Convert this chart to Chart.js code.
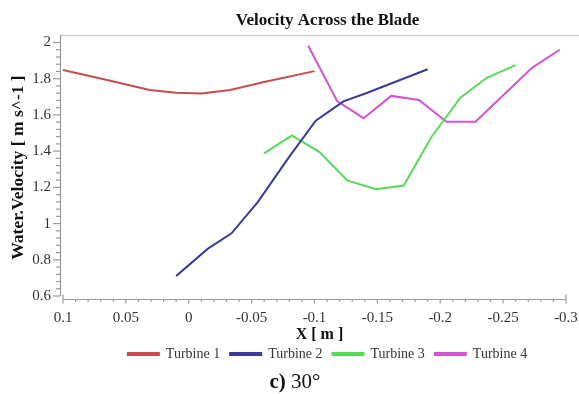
<!DOCTYPE html>
<html>
<head>
<meta charset="utf-8">
<script src="https://cdn.jsdelivr.net/npm/chart.js@4/dist/chart.umd.min.js"></script>
<style>
  html, body { margin: 0; padding: 0; background: #ffffff; overflow: hidden; }
  #wrap { position: relative; width: 579px; height: 394px; overflow: hidden; }
  #c { display: block; }
  #caption { position: absolute; top: 370px; left: 295px; transform: translateX(-50%);
    font-family: "Liberation Serif", "Times New Roman", serif; font-size: 21px; line-height: 23px;
    color: #111; white-space: nowrap; }
</style>
</head>
<body>
<div id="wrap">
  <canvas id="c" width="579" height="394"></canvas>
  <div id="caption"><b>c)</b> 30°</div>
</div>
<script>
// ---- data ----
const seriesNames = ['Turbine 1', 'Turbine 2', 'Turbine 3', 'Turbine 4'];

const t1X = [0.1, 0.065, 0.031, 0.01, -0.01, -0.033, -0.059, -0.1];
const t1Y = [1.848, 1.793, 1.738, 1.722, 1.718, 1.738, 1.78, 1.842];

const t2X = [0.01, -0.015, -0.034, -0.055, -0.08, -0.101, -0.123, -0.141, -0.19];
const t2Y = [0.71, 0.86, 0.946, 1.12, 1.37, 1.568, 1.675, 1.72, 1.852];

const t3X = [-0.06, -0.082, -0.104, -0.126, -0.149, -0.171, -0.193, -0.216, -0.237, -0.26];
const t3Y = [1.388, 1.487, 1.395, 1.238, 1.19, 1.21, 1.478, 1.695, 1.805, 1.875];

const t4X = [-0.095, -0.118, -0.139, -0.161, -0.183, -0.205, -0.228, -0.273, -0.295];
const t4Y = [1.982, 1.677, 1.582, 1.705, 1.683, 1.562, 1.562, 1.86, 1.96];

const xTicks = [0.1, 0.05, 0, -0.05, -0.1, -0.15, -0.2, -0.25, -0.3];
const xTickLabels = ['0.1', '0.05', '0', '-0.05', '-0.1', '-0.15', '-0.2', '-0.25', '-0.3'];
const yTicks = [0.6, 0.8, 1, 1.2, 1.4, 1.6, 1.8, 2];
const yTickLabels = ['0.6', '0.8', '1', '1.2', '1.4', '1.6', '1.8', '2'];

const colors = ['#c24e4e', '#3a3a9c', '#58d858', '#d055d0'];

function pts(xs, ys) { return xs.map((x, i) => ({ x: x, y: ys[i] })); }

const SERIF = '"Liberation Serif", "Times New Roman", serif';

// axis lines, frame and minor ticks drawn from the scales
const axesPlugin = {
  id: 'axesPlugin',
  afterLayout(chart) {
    if (chart.titleBlock) { chart.titleBlock.left += 16; }
    if (chart.legend) { chart.legend.left += 8; chart.legend.right += 8; }
  },
  beforeDatasetsDraw(chart) {
    const ctx = chart.ctx;
    const a = chart.chartArea;
    const xs = chart.scales.x, ys = chart.scales.y;
    ctx.save();
    // light frame on top
    ctx.strokeStyle = '#cfcfcf';
    ctx.lineWidth = 1.5;
    ctx.beginPath();
    ctx.moveTo(a.left, a.top + 0.5);
    ctx.lineTo(a.right, a.top + 0.5);
    ctx.stroke();
    // y axis line
    ctx.strokeStyle = '#9a9a9a';
    ctx.lineWidth = 1.2;
    const yb = ys.getPixelForValue(yTicks[0]);
    ctx.beginPath();
    ctx.moveTo(a.left + 0.5, a.top);
    ctx.lineTo(a.left + 0.5, yb);
    ctx.stroke();
    // y ticks
    for (let i = 60; i <= 200; i += 4) {
      const py = ys.getPixelForValue(i / 100);
      const len = (i % 20 === 0) ? 7 : 4;
      ctx.beginPath();
      ctx.moveTo(a.left, py);
      ctx.lineTo(a.left - len, py);
      ctx.stroke();
    }
    // x axis line
    const x0 = xs.getPixelForValue(xTicks[0]);
    const x1 = xs.getPixelForValue(xTicks[xTicks.length - 1]);
    const by = a.bottom - 0.5;
    ctx.beginPath();
    ctx.moveTo(x0, by);
    ctx.lineTo(x1, by);
    ctx.stroke();
    ctx.beginPath();
    ctx.moveTo(x0, by); ctx.lineTo(x0, by - 5);
    ctx.moveTo(x1, by); ctx.lineTo(x1, by - 5);
    ctx.stroke();
    for (let i = 10; i >= -30; i--) {
      const px = xs.getPixelForValue(i / 100);
      const len = (i % 5 === 0) ? 4 : 2.5;
      ctx.beginPath();
      ctx.moveTo(px, by);
      ctx.lineTo(px, by + len);
      ctx.stroke();
    }
    ctx.restore();
  }
};

const datasets = [[t1X, t1Y], [t2X, t2Y], [t3X, t3Y], [t4X, t4Y]].map((s, i) => ({
  label: seriesNames[i],
  data: pts(s[0], s[1]),
  borderColor: colors[i],
  backgroundColor: colors[i],
  borderWidth: 2,
  pointRadius: 0,
  tension: 0,
  fill: false
}));

new Chart(document.getElementById('c'), {
  type: 'line',
  data: { datasets: datasets },
  plugins: [axesPlugin],
  options: {
    responsive: false,
    animation: false,
    devicePixelRatio: 1,
    layout: { autoPadding: false, padding: { left: 0, right: 0, top: 0, bottom: 23 } },
    plugins: {
      title: {
        display: true,
        text: 'Velocity Across the Blade',
        color: '#111',
        font: { family: SERIF, size: 17, weight: 'bold' },
        padding: { top: 10.5, bottom: 4.1 },
        fullSize: false
      },
      legend: {
        display: true,
        position: 'bottom',
        fullSize: false,
        labels: {
          boxWidth: 31,
          boxHeight: 2,
          padding: 10,
          color: '#333',
          font: { family: SERIF, size: 14 }
        }
      },
      tooltip: { enabled: false }
    },
    scales: {
      x: {
        type: 'linear',
        reverse: true,
        min: -0.31034,
        max: 0.10239,
        afterBuildTicks: (s) => { s.ticks = xTicks.map(v => ({ value: v })); },
        afterFit: (s) => { s.height = 37; s.paddingLeft = 0; s.paddingRight = 0; },
        grid: { display: false, drawTicks: false },
        border: { display: false },
        ticks: {
          autoSkip: false,
          maxRotation: 0,
          padding: 9,
          color: '#333',
          font: { family: SERIF, size: 15 },
          callback: (v, i) => xTickLabels[i]
        },
        title: {
          display: true,
          text: 'X [ m ]',
          color: '#111',
          font: { family: SERIF, size: 16, weight: 'bold' },
          padding: { top: 0, bottom: -7.6 }
        }
      },
      y: {
        type: 'linear',
        min: 0.5779,
        max: 2.0414,
        afterBuildTicks: (s) => { s.ticks = yTicks.map(v => ({ value: v })); },
        afterFit: (s) => { s.width = 60; s.paddingTop = 0; s.paddingBottom = 0; },
        grid: { display: false, drawTicks: false },
        border: { display: false },
        ticks: {
          padding: 9,
          color: '#333',
          font: { family: SERIF, size: 15 },
          callback: (v, i) => yTickLabels[i]
        },
        title: {
          display: true,
          text: 'Water.Velocity [ m s^-1 ]',
          color: '#111',
          font: { family: SERIF, size: 17.5, weight: 'bold' },
          padding: { top: 7.5, bottom: 0 }
        }
      }
    }
  }
});
</script>
</body>
</html>
